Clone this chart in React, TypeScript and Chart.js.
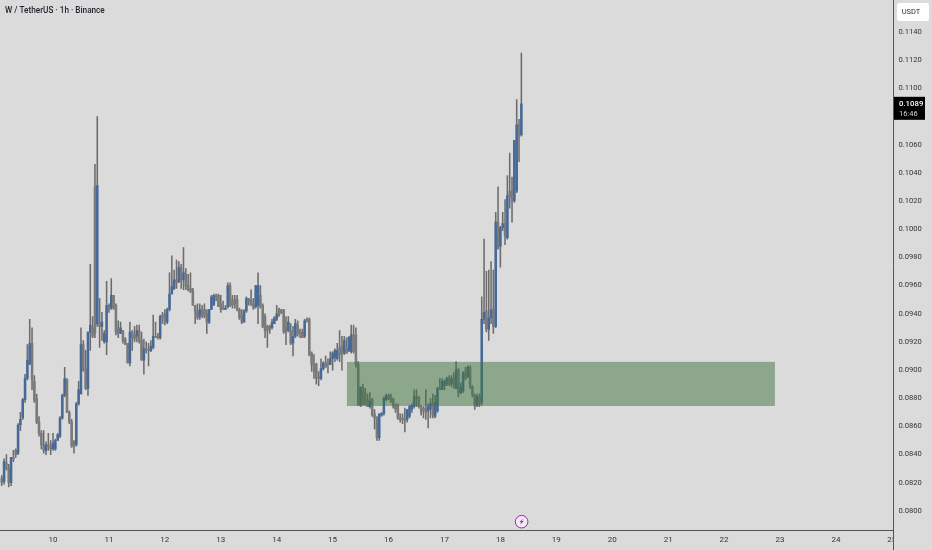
import React, { useEffect, useRef } from "react";
import { Chart, registerables } from "chart.js";

Chart.register(...registerables);

const opens = [
0.0823,0.0821,0.0834,0.0830,0.0820,0.0838,0.0843,0.0841,0.0861,0.0866,
0.0879,0.0894,0.0904,0.0919,0.0892,0.0880,0.0863,0.0855,0.0847,0.0843,
0.0847,0.0846,0.0844,0.0844,0.0850,0.0853,0.0866,0.0882,0.0893,0.0870,
0.0863,0.0849,0.0847,0.0876,0.0883,0.0918,0.0901,0.0887,0.0927,0.0930,
0.1030,0.0933,0.0934,0.0931,0.0920,0.0920,0.0946,0.0944,0.0953,0.0946,
0.0929,0.0926,0.0928,0.0922,0.0919,0.0905,0.0927,0.0925,0.0924,0.0928,
0.0921,0.0907,0.0915,0.0915,0.0914,0.0916,0.0924,0.0924,0.0923,0.0939,
0.0940,0.0934,0.0943,0.0954,0.0958,0.0964,0.0963,0.0973,0.0964,0.0968,
0.0960,0.0958,0.0957,0.0946,0.0942,0.0938,0.0943,0.0943,0.0940,0.0934,
0.0943,0.0946,0.0953,0.0953,0.0947,0.0944,0.0943,0.0945,0.0960,0.0950,
0.0950,0.0950,0.0943,0.0939,0.0934,0.0942,0.0950,0.0950,0.0947,0.0945,
0.0946,0.0953,0.0946,0.0938,0.0931,0.0931,0.0930,0.0933,0.0936,0.0943,
0.0943,0.0943,0.0930,0.0928,0.0928,0.0919,0.0924,0.0932,0.0927,0.0927,
0.0924,0.0936,0.0936,0.0912,0.0904,0.0904,0.0895,0.0894,0.0901,0.0905,
0.0905,0.0904,0.0908,0.0909,0.0908,0.0916,0.0917,0.0912,0.0915,0.0914,
0.0913,0.0925,0.0925,0.0904,0.0875,0.0888,0.0884,0.0879,0.0874,0.0879,
0.0869,0.0866,0.0852,0.0868,0.0869,0.0879,0.0882,0.0881,0.0880,0.0875,
0.0875,0.0866,0.0866,0.0865,0.0865,0.0867,0.0872,0.0874,0.0880,0.0881,
0.0874,0.0873,0.0873,0.0871,0.0872,0.0877,0.0867,0.0871,0.0887,0.0886,
0.0889,0.0890,0.0894,0.0890,0.0894,0.0887,0.0900,0.0884,0.0885,0.0898,
0.0895,0.0902,0.0888,0.0882,0.0875,0.0881,0.0877,0.0936,0.0942,0.0929,
0.0937,0.0943,0.0931,0.1005,0.0988,0.1001,0.1004,0.0994,0.1027,0.1027,
0.1020,0.1027,0.1074,0.1067];

const highs = [
0.0825,0.0837,0.0840,0.0833,0.0838,0.0843,0.0844,0.0862,0.0870,0.0880,
0.0897,0.0918,0.0936,0.0930,0.0896,0.0883,0.0867,0.0857,0.0857,0.0849,
0.0855,0.0850,0.0855,0.0851,0.0855,0.0867,0.0883,0.0902,0.0894,0.0871,
0.0865,0.0850,0.0877,0.0892,0.0930,0.0921,0.0914,0.0927,0.0975,0.0938,
0.1046,0.1080,0.0951,0.0941,0.0928,0.0963,0.0947,0.0965,0.0953,0.0947,
0.0935,0.0934,0.0928,0.0923,0.0919,0.0934,0.0928,0.0931,0.0932,0.0932,
0.0927,0.0922,0.0920,0.0919,0.0921,0.0939,0.0934,0.0926,0.0939,0.0941,
0.0943,0.0944,0.0969,0.0981,0.0971,0.0978,0.0977,0.0975,0.0987,0.0972,
0.0968,0.0969,0.0958,0.0946,0.0947,0.0947,0.0946,0.0947,0.0943,0.0943,
0.0953,0.0954,0.0954,0.0954,0.0953,0.0949,0.0946,0.0962,0.0962,0.0953,
0.0953,0.0953,0.0944,0.0943,0.0943,0.0952,0.0951,0.0957,0.0951,0.0960,
0.0969,0.0960,0.0947,0.0940,0.0932,0.0932,0.0936,0.0938,0.0946,0.0944,
0.0943,0.0943,0.0938,0.0938,0.0933,0.0931,0.0936,0.0935,0.0929,0.0929,
0.0936,0.0937,0.0937,0.0913,0.0911,0.0905,0.0899,0.0908,0.0906,0.0910,
0.0908,0.0913,0.0913,0.0915,0.0919,0.0928,0.0924,0.0924,0.0923,0.0924,
0.0932,0.0932,0.0930,0.0906,0.0888,0.0890,0.0887,0.0883,0.0884,0.0880,
0.0872,0.0867,0.0869,0.0870,0.0881,0.0883,0.0883,0.0883,0.0880,0.0876,
0.0876,0.0869,0.0869,0.0873,0.0872,0.0875,0.0876,0.0886,0.0886,0.0881,
0.0875,0.0874,0.0886,0.0876,0.0880,0.0883,0.0882,0.0888,0.0894,0.0894,
0.0893,0.0895,0.0896,0.0896,0.0898,0.0906,0.0901,0.0891,0.0899,0.0902,
0.0903,0.0903,0.0889,0.0883,0.0883,0.0883,0.0952,0.0993,0.0970,0.0971,
0.0977,0.0971,0.1012,0.1030,0.1002,0.1012,0.1021,0.1038,0.1054,0.1037,
0.1063,0.1092,0.1078,0.1125];

const lows = [
0.0818,0.0819,0.0829,0.0817,0.0818,0.0835,0.0838,0.0840,0.0857,0.0865,
0.0877,0.0893,0.0904,0.0886,0.0877,0.0862,0.0853,0.0844,0.0841,0.0840,
0.0843,0.0840,0.0843,0.0843,0.0850,0.0852,0.0865,0.0881,0.0870,0.0862,
0.0845,0.0841,0.0846,0.0875,0.0883,0.0899,0.0886,0.0882,0.0914,0.0923,
0.0923,0.0931,0.0916,0.0921,0.0919,0.0911,0.0941,0.0943,0.0943,0.0925,
0.0923,0.0926,0.0919,0.0918,0.0905,0.0903,0.0914,0.0920,0.0920,0.0919,
0.0907,0.0897,0.0912,0.0903,0.0913,0.0915,0.0923,0.0922,0.0922,0.0933,
0.0932,0.0933,0.0942,0.0954,0.0957,0.0958,0.0962,0.0958,0.0957,0.0957,
0.0956,0.0955,0.0946,0.0933,0.0936,0.0936,0.0937,0.0937,0.0926,0.0933,
0.0943,0.0946,0.0949,0.0945,0.0941,0.0943,0.0943,0.0944,0.0945,0.0944,
0.0944,0.0942,0.0936,0.0933,0.0934,0.0941,0.0946,0.0946,0.0943,0.0944,
0.0933,0.0944,0.0930,0.0923,0.0916,0.0926,0.0929,0.0933,0.0935,0.0938,
0.0940,0.0926,0.0918,0.0927,0.0918,0.0910,0.0923,0.0924,0.0923,0.0923,
0.0923,0.0934,0.0910,0.0899,0.0894,0.0890,0.0889,0.0893,0.0900,0.0902,
0.0898,0.0904,0.0900,0.0906,0.0907,0.0906,0.0900,0.0911,0.0912,0.0913,
0.0912,0.0912,0.0902,0.0875,0.0874,0.0875,0.0875,0.0874,0.0873,0.0867,
0.0858,0.0850,0.0850,0.0867,0.0868,0.0878,0.0879,0.0877,0.0873,0.0870,
0.0865,0.0863,0.0862,0.0856,0.0863,0.0866,0.0870,0.0873,0.0874,0.0873,
0.0868,0.0866,0.0865,0.0859,0.0866,0.0866,0.0866,0.0870,0.0886,0.0886,
0.0886,0.0889,0.0889,0.0888,0.0887,0.0887,0.0881,0.0883,0.0884,0.0893,
0.0895,0.0887,0.0881,0.0872,0.0874,0.0874,0.0875,0.0933,0.0927,0.0921,
0.0933,0.0926,0.0930,0.0986,0.0973,0.0999,0.0989,0.0993,0.1015,0.1005,
0.1019,0.1026,0.1048,0.1066];

const closes = [
0.0820,0.0835,0.0830,0.0820,0.0838,0.0837,0.0840,0.0861,0.0865,0.0879,
0.0894,0.0907,0.0919,0.0893,0.0878,0.0863,0.0855,0.0847,0.0843,0.0847,
0.0846,0.0844,0.0848,0.0850,0.0854,0.0866,0.0882,0.0894,0.0870,0.0863,
0.0846,0.0846,0.0876,0.0886,0.0918,0.0900,0.0887,0.0927,0.0932,0.0924,
0.0926,0.1031,0.0931,0.0934,0.0926,0.0946,0.0943,0.0953,0.0944,0.0927,
0.0926,0.0930,0.0921,0.0918,0.0905,0.0927,0.0923,0.0922,0.0928,0.0921,
0.0907,0.0915,0.0914,0.0914,0.0917,0.0924,0.0923,0.0923,0.0938,0.0937,
0.0934,0.0943,0.0954,0.0959,0.0964,0.0962,0.0973,0.0964,0.0969,0.0959,
0.0957,0.0956,0.0946,0.0942,0.0937,0.0943,0.0940,0.0938,0.0934,0.0943,
0.0952,0.0953,0.0952,0.0945,0.0943,0.0943,0.0944,0.0960,0.0946,0.0946,
0.0947,0.0943,0.0937,0.0934,0.0942,0.0951,0.0949,0.0946,0.0944,0.0960,
0.0960,0.0945,0.0931,0.0928,0.0928,0.0929,0.0934,0.0937,0.0940,0.0939,
0.0941,0.0927,0.0927,0.0934,0.0919,0.0924,0.0933,0.0926,0.0926,0.0923,
0.0935,0.0935,0.0911,0.0904,0.0899,0.0894,0.0894,0.0901,0.0905,0.0902,
0.0904,0.0908,0.0912,0.0914,0.0914,0.0911,0.0912,0.0921,0.0912,0.0923,
0.0925,0.0913,0.0904,0.0875,0.0888,0.0876,0.0876,0.0874,0.0878,0.0868,
0.0866,0.0852,0.0869,0.0869,0.0880,0.0882,0.0880,0.0878,0.0875,0.0872,
0.0866,0.0865,0.0865,0.0864,0.0872,0.0874,0.0875,0.0881,0.0881,0.0874,
0.0870,0.0871,0.0870,0.0874,0.0876,0.0868,0.0877,0.0887,0.0886,0.0892,
0.0892,0.0894,0.0890,0.0894,0.0890,0.0900,0.0884,0.0888,0.0898,0.0894,
0.0902,0.0888,0.0882,0.0875,0.0881,0.0876,0.0936,0.0941,0.0929,0.0937,
0.0943,0.0931,0.1005,0.0986,0.1001,0.1004,0.0995,0.1024,0.1023,0.1020,
0.1063,0.1074,0.1067,0.1089];

// Hours of the first candle relative to the "10" tick (day 9, 02:00)
const firstHourFromDay10 = -22;
const firstDay = 10;
const hoursPerDay = 24;

const titleText = "W / TetherUS · 1h · Binance";
const currencyLabel = "USDT";
const lastPriceLabel = "0.1089";
const countdownLabel = "16:46";
const lastPriceValue = 0.1089;
const highestPriceLabel = 0.114;
const zoneDays = [15.256, 22.909];
const zonePrices = [0.08745, 0.09058];
const boltDay = 18.38;

const W = 932;
const H = 550;
const BG = "#DBDBDB";
const AXIS = "#555555";
const TEXT = "#333333";
const FONT = "Roboto, 'Liberation Sans', sans-serif";
const UP = "#46699A";
const DOWN = "#7A7A7A";
const WICK = "#6C6C6C";

const dayOf = (i: number) => firstDay + (firstHourFromDay10 + i) / hoursPerDay;

const overlay = {
  id: "overlay",
  beforeDraw(chart: any) {
    const c = chart.ctx;
    c.save();
    c.fillStyle = BG;
    c.fillRect(0, 0, W, H);
    c.restore();
  },
  afterDatasetsDraw(chart: any) {
    const c = chart.ctx;
    const x = chart.scales.x;
    const y = chart.scales.y;
    const l = x.getPixelForValue(zoneDays[0]);
    const r = x.getPixelForValue(zoneDays[1]);
    const t = y.getPixelForValue(zonePrices[1]);
    const b = y.getPixelForValue(zonePrices[0]);
    c.save();
    c.fillStyle = "rgba(62,116,62,0.5)";
    c.fillRect(l, t, r - l, b - t);
    c.restore();
  },
  afterDraw(chart: any) {
    const c = chart.ctx;
    const x = chart.scales.x;
    const y = chart.scales.y;
    const axisX = chart.chartArea.right;
    const axisY = chart.chartArea.bottom;
    c.save();
    // price pane covers the time labels that run under it
    c.fillStyle = BG;
    c.fillRect(axisX, axisY + 1, W - axisX, H - axisY);
    c.strokeStyle = AXIS;
    c.lineWidth = 1;
    c.beginPath();
    c.moveTo(axisX, axisY);
    c.lineTo(axisX, H);
    c.stroke();

    // title
    c.fillStyle = "#1E222D";
    c.font = `500 8.2px ${FONT}`;
    c.textAlign = "left";
    c.textBaseline = "middle";
    c.fillText(titleText, 5, 11);

    // currency box
    c.fillStyle = "#FFFFFF";
    c.beginPath();
    c.roundRect(897, 3, 32, 18, 2);
    c.fill();
    c.fillStyle = "#2A2E39";
    c.font = `7.5px ${FONT}`;
    c.textAlign = "center";
    c.fillText(currencyLabel, 911, 12.5);

    // last price box
    const py = y.getPixelForValue(lastPriceValue);
    c.fillStyle = "#000000";
    c.fillRect(894, py - 7, 31, 23);
    c.fillStyle = "#FFFFFF";
    c.textAlign = "left";
    c.font = `500 7.8px ${FONT}`;
    c.fillText(lastPriceLabel, 899, py + 0.5);
    c.font = `7.5px ${FONT}`;
    c.fillStyle = "#D8D8D8";
    c.fillText(countdownLabel, 899, py + 10);

    // bolt marker
    const bx = x.getPixelForValue(boltDay);
    const by = 521.7;
    c.beginPath();
    c.arc(bx, by, 6.3, 0, Math.PI * 2);
    c.fillStyle = "#F2EAF5";
    c.fill();
    c.lineWidth = 1;
    c.strokeStyle = "#9C27B0";
    c.stroke();
    c.beginPath();
    c.moveTo(bx + 1.8, by - 3.4);
    c.lineTo(bx - 2.2, by + 0.6);
    c.lineTo(bx - 0.2, by + 0.6);
    c.lineTo(bx - 1.8, by + 3.4);
    c.lineTo(bx + 2.2, by - 0.8);
    c.lineTo(bx + 0.2, by - 0.8);
    c.closePath();
    c.fillStyle = "#9C27B0";
    c.fill();
    c.restore();
  },
};

export default function App() {
  const ref = useRef<HTMLCanvasElement>(null);
  useEffect(() => {
    const wicks = highs.map((h, i) => ({ x: dayOf(i), y: [lows[i], h] }));
    const bodies = opens.map((o, i) => ({
      x: dayOf(i),
      y: o === closes[i] ? [o - 0.00003, o + 0.00003] : [o, closes[i]],
    }));
    const bodyColors = opens.map((o, i) => (closes[i] >= o ? UP : DOWN));
    const chart = new Chart(ref.current as HTMLCanvasElement, {
      type: "bar",
      data: {
        datasets: [
          {
            label: "High-low",
            data: wicks as any,
            backgroundColor: WICK,
            barThickness: 0.9,
            grouped: false,
            order: 2,
          },
          {
            label: "Open-close",
            data: bodies as any,
            backgroundColor: bodyColors,
            barThickness: 1.9,
            grouped: false,
            order: 1,
          },
        ],
      },
      options: {
        responsive: false,
        animation: false,
        devicePixelRatio: 1,
        layout: { padding: 0 },
        plugins: { legend: { display: false }, title: { display: false }, tooltip: { enabled: false } },
        scales: {
          x: {
            type: "linear",
            offset: false,
            min: 9.052,
            max: 25.03,
            afterFit(s: any) {
              s.height = 19.5;
              s.paddingLeft = 0;
              s.paddingRight = 0;
            },
            grid: { display: false, drawTicks: false, offset: false },
            border: { color: AXIS, width: 1 },
            ticks: {
              stepSize: 1,
              includeBounds: false,
              autoSkip: false,
              maxRotation: 0,
              padding: 5,
              color: TEXT,
              font: { family: FONT, size: 8 },
              callback: (v: any) => String(v),
            },
          },
          y: {
            type: "linear",
            position: "right",
            min: 0.07861,
            max: 0.11627,
            afterFit(s: any) {
              s.width = 38.5;
              s.paddingTop = 0;
              s.paddingBottom = 0;
            },
            grid: { display: false, drawTicks: false },
            border: { color: AXIS, width: 1 },
            ticks: {
              stepSize: 0.002,
              includeBounds: false,
              autoSkip: false,
              padding: 5,
              color: TEXT,
              font: { family: FONT, size: 7.6 },
              callback: (v: any) => (Number(v) > highestPriceLabel + 0.0001 ? "" : Number(v).toFixed(4)),
            },
          },
        },
      },
      plugins: [overlay],
    } as any);
    return () => chart.destroy();
  }, []);
  return (
    <div style={{ position: "absolute", left: 0, top: 0, width: W, height: H, background: BG, overflow: "hidden" }}>
      <canvas ref={ref} width={W} height={H} style={{ display: "block", filter: "blur(0.35px)" }} />
    </div>
  );
}
